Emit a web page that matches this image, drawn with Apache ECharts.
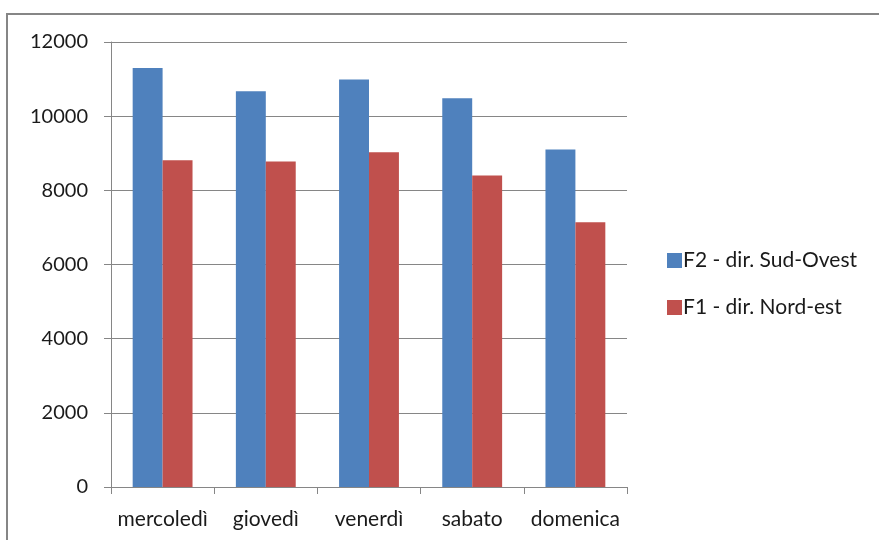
<!DOCTYPE html>
<html><head><meta charset="utf-8">
<script src="https://cdn.jsdelivr.net/npm/echarts@6/dist/echarts.min.js"></script>
<style>html,body{margin:0;padding:0;background:#fff}#c{width:879px;height:540px}</style>
</head><body><div id="c"></div>
<script>
const categories = ['mercoledì', 'giovedì', 'venerdì', 'sabato', 'domenica'];
const seriesNames = ['F2 - dir. Sud-Ovest', 'F1 - dir. Nord-est'];
const f2Values = [11300, 10670, 10990, 10480, 9100];
const f1Values = [8810, 8780, 9030, 8400, 7140];
const yTicks = [0, 2000, 4000, 6000, 8000, 10000, 12000];

const FONT = 'Lato, "Open Sans", sans-serif';
const chart = echarts.init(document.getElementById('c'));
chart.setOption({
  animation: false,
  backgroundColor: '#fff',
  graphic: [{
    type: 'rect', shape: {x: 7, y: 14, width: 900, height: 600},
    style: {fill: 'none', stroke: '#868686', lineWidth: 2}, z: -1
  }],
  grid: {left: 111, top: 42, width: 516, height: 445, containLabel: false},
  legend: {
    orient: 'vertical', left: 667, top: 250, padding: 0, itemWidth: 15, itemHeight: 15,
    itemGap: 26, icon: 'rect',
    textStyle: {fontFamily: FONT, fontSize: 21, lineHeight: 20, color: '#1a1a1a', padding: [0, 0, 0, -4]},
    data: seriesNames
  },
  xAxis: {
    type: 'category', data: categories,
    axisLine: {lineStyle: {color: '#868686', width: 1}},
    axisTick: {show: true, length: 7, lineStyle: {color: '#868686'}},
    axisLabel: {fontFamily: FONT, fontSize: 21, color: '#1a1a1a', margin: 22, interval: 0, hideOverlap: false}
  },
  yAxis: {
    type: 'value', min: yTicks[0], max: yTicks[yTicks.length - 1], interval: 2000,
    axisLine: {show: true, lineStyle: {color: '#868686'}},
    axisTick: {show: true, length: 7, lineStyle: {color: '#868686'}},
    splitLine: {lineStyle: {color: '#868686'}},
    axisLabel: {fontFamily: FONT, fontSize: 20, color: '#1a1a1a', margin: 23, formatter: v => String(v)}
  },
  series: [
    {name: seriesNames[0], type: 'bar', data: f2Values, barGap: '0%', barCategoryGap: '42%',
     itemStyle: {color: '#4F81BD'}},
    {name: seriesNames[1], type: 'bar', data: f1Values, barGap: '0%', barCategoryGap: '42%',
     itemStyle: {color: '#C0504D'}}
  ]
});
</script></body></html>
